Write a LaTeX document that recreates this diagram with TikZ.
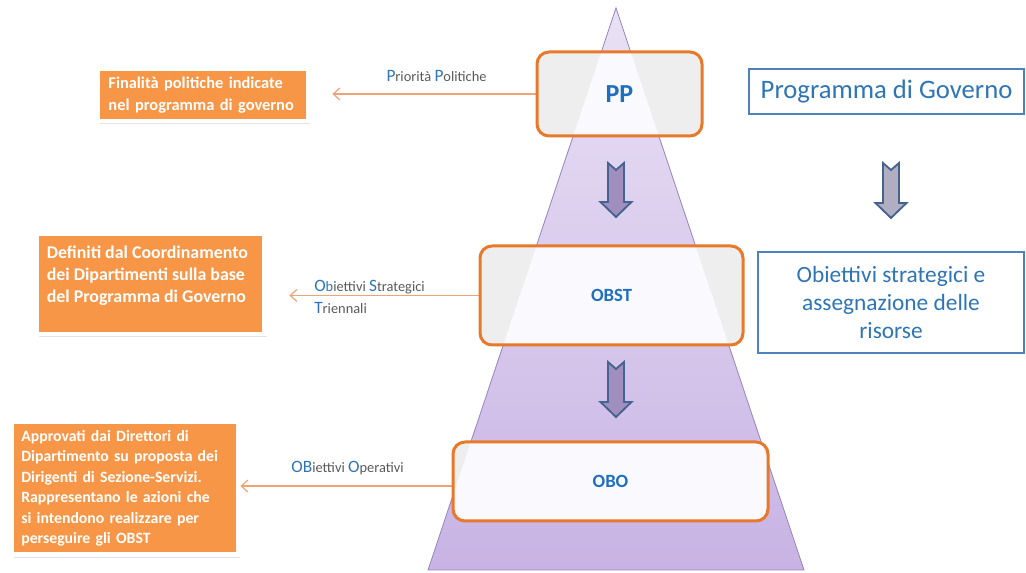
\documentclass[tikz,border=0pt]{standalone}
\usepackage{fontspec}
\setmainfont{Carlito}
\usetikzlibrary{shadows,arrows.meta,calc}
\definecolor{orfill}{HTML}{F79646}
\definecolor{orline}{HTML}{E8782A}
\definecolor{connc}{HTML}{EDA47A}
\definecolor{txtblue}{HTML}{1F6FC0}
\definecolor{lblblue}{HTML}{2E75B6}
\definecolor{lblgrey}{HTML}{595959}
\definecolor{rbline}{HTML}{4F81BD}
\definecolor{pyrtop}{HTML}{E9E1F5}
\definecolor{pyrbot}{HTML}{C8B3E4}
\definecolor{pyrline}{HTML}{9484BC}
\definecolor{boxgrey}{HTML}{EEEEEE}
\definecolor{boxlight}{HTML}{FAF9FD}
\definecolor{arrfill}{HTML}{A08EBE}
\definecolor{arrline}{HTML}{44648F}
\definecolor{garrfill}{HTML}{B2AEC2}
\pgfdeclarelayer{bg}
\pgfsetlayers{bg,main}
\newcommand{\Cap}[1]{{\color{lblblue}\fontsize{13}{13}\selectfont #1}}
\newcommand{\blockarrow}[4]{%
  \path[#1] (#2-8,#3) -- (#2,#3+7) -- (#2+8,#3) -- (#2+8,#4-15) -- (#2+15.5,#4-15)
    -- (#2,#4) -- (#2-15.5,#4-15) -- (#2-8,#4-15) -- cycle;}
\tikzset{
  level/.style={draw=orline, line width=2.25pt, rounded corners=9pt, fill=boxgrey,
    path picture={\fill[boxlight] (apex) -- (bl) -- (br) -- cycle;},
    font=\bfseries\fontsize{14}{16}\selectfont, text=txtblue},
  note/.style={fill=orfill, draw=white, line width=3.5pt,
    drop shadow={shadow xshift=1.8pt, shadow yshift=-2.6pt, opacity=0.22},
    text=white, font=\bfseries\fontsize{12.3}{16.5}\selectfont},
  rbox/.style={draw=rbline, line width=1.5pt, fill=white, text=lblblue, align=center},
  connector/.style={draw=connc, line width=0.9pt, -{Straight Barb[length=5pt,width=9pt]}},
  blockarr/.style={fill=arrfill, draw=arrline, line width=1.4pt, line join=miter},
  greyarr/.style={fill=garrfill, draw=arrline, line width=1.4pt, line join=miter},
  lbl/.style={font=\fontsize{10.8}{16.5}\selectfont, text=lblgrey, inner sep=0pt}
}
\begin{document}
\begin{tikzpicture}[x=0.75pt,y=-0.75pt]
\useasboundingbox (0,0) rectangle (1026,573);
\coordinate (apex) at (616,8);
\coordinate (bl) at (428,570);
\coordinate (br) at (804,570);
\begin{pgfonlayer}{bg}
  \shade[top color=pyrtop, bottom color=pyrbot] (apex) -- (br) -- (bl) -- cycle;
  \draw[pyrline, line width=0.6pt, line join=miter] (apex) -- (br) -- (bl) -- cycle;
\end{pgfonlayer}

% pyramid levels
\node[level, minimum width=165*0.75pt, minimum height=84*0.75pt] (pp) at (619.5,94)
  {\fontsize{19.5}{20}\selectfont PP};
\node[level, minimum width=263*0.75pt, minimum height=99*0.75pt] (obst) at (611.5,295.5) {OBST};
\node[level, minimum width=315*0.75pt, minimum height=79*0.75pt] (obo) at (610.5,481.5) {OBO};

% block arrows
\blockarrow{blockarr}{616}{163}{217}
\blockarrow{blockarr}{616}{362}{417}
\blockarrow{greyarr}{891}{163}{218}

% orange notes
\node[note, align=left, minimum width=210.5*0.75pt, minimum height=52.5*0.75pt,
  inner xsep=8.25pt, text width=141.4pt] (fin1) at (202.75,94.75)
  {Finalità politiche indicate\\nel programma di governo};
\node[note, inner sep=0pt, minimum width=227.5*0.75pt, minimum height=100.5*0.75pt,
  font=\bfseries\fontsize{13.4}{16.5}\selectfont] (fin2) at (150.75,283.75)
  {\begin{minipage}[c][57.4pt][t]{156pt}\raggedright
   Definiti dal Coordinamento\\dei Dipartimenti sulla base\\del Programma di Governo\end{minipage}};
\node[note, align=left, minimum width=226*0.75pt, minimum height=132.5*0.75pt,
  inner xsep=7pt, text width=155.5pt, font=\bfseries\fontsize{11.8}{15.4}\selectfont] (fin3) at (125,488.25)
  {Approvati dai Direttori di\\Dipartimento su proposta dei\\Dirigenti di Sezione-Servizi.\\Rappresentano le azioni che\\si intendono realizzare per\\perseguire gli OBST};

% right boxes
\node[rbox, minimum width=275*0.75pt, minimum height=45*0.75pt, font=\fontsize{20}{24}\selectfont] (pg) at (886.5,91.5)
  {Programma di Governo};
\node[rbox, minimum width=266*0.75pt, minimum height=101*0.75pt, font=\fontsize{17.5}{21}\selectfont] (os) at (891,302.5)
  {Obiettivi strategici e\\assegnazione delle\\risorse};

% connector labels
\node[lbl, anchor=base] (l1) at (436.5,82) {\Cap{P}riorità \Cap{P}olitiche};
\node[lbl, anchor=west, align=left] (l2) at (314,297)
  {\Cap{O}{\color{lblblue}b}iettivi \Cap{S}trategici\\\Cap{T}riennali};
\node[lbl, anchor=base] (l3) at (347.5,473) {\Cap{OB}iettivi \Cap{O}perativi};

% connectors
\begin{pgfonlayer}{bg}
  \draw[connector, shorten >=16.5pt] (pp.west) -- (pp.west -| fin1.east);
  \draw[connector, shorten >=16.9pt] (obst.west) -- (obst.west -| fin2.east);
  \draw[connector] ([yshift=-3.4pt]obo.west) -- ([yshift=-3.4pt]obo.west -| fin3.east);
\end{pgfonlayer}
\end{tikzpicture}
\end{document}
